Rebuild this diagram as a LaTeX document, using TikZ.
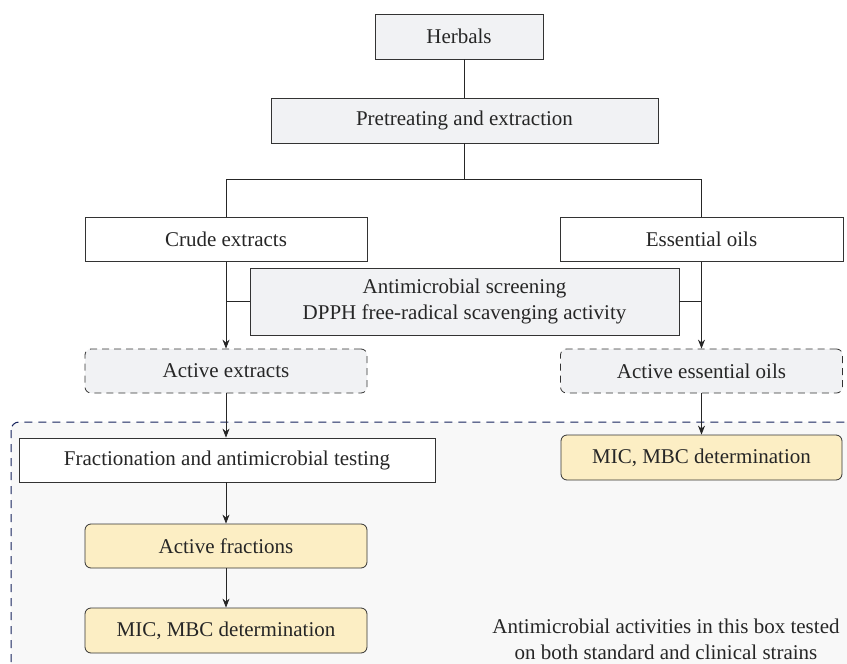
\documentclass[tikz,border=0pt]{standalone}
\usepackage{fontspec}
\setmainfont{Liberation Serif}
\usetikzlibrary{arrows.meta}
\definecolor{boxgray}{HTML}{F1F2F4}
\definecolor{boxyellow}{HTML}{FCEEC4}
\definecolor{areagray}{HTML}{F8F8F8}
\definecolor{areanavy}{HTML}{15225C}

\begin{document}
\begin{tikzpicture}[x=1pt,y=-1pt,
    every node/.style={font=\fontsize{21}{26}\selectfont, text=black!85},
    box/.style={draw=black!80, line width=0.8pt, minimum height=44pt, inner sep=0pt},
    graybox/.style={box, fill=boxgray},
    whitebox/.style={box, fill=white},
    activebox/.style={box, fill=boxgray, dash pattern=on 7pt off 5pt, rounded corners=6pt},
    resultbox/.style={box, fill=boxyellow, rounded corners=6pt},
    link/.style={draw=black!85, line width=0.8pt},
    arr/.style={link, -{Stealth[length=9pt,width=7pt]}}]
    \useasboundingbox (0,0) rectangle (847,664);
    % testing area
    \draw[areanavy, dash pattern=on 8pt off 6pt, line width=1pt, fill=areagray, rounded corners=8pt]
        (11,422) rectangle (880,700);
    \node[graybox, minimum width=168pt, minimum height=45pt] (herb) at (459,36.5) {Herbals};
    \node[graybox, minimum width=387pt, minimum height=45pt] (pre) at (464.5,120.5) {Pretreating and extraction};
    \node[whitebox, minimum width=282pt] (crude) at (226,239.5) {Crude extracts};
    \node[whitebox, minimum width=283pt] (oil) at (701.5,239.5) {Essential oils};
    \node[graybox, minimum width=429pt, minimum height=67pt, align=center] (screen) at (464.5,301.5)
        {Antimicrobial screening\\DPPH free-radical scavenging activity};
    \node[activebox, minimum width=282pt] (actext) at (226,371) {Active extracts};
    \node[activebox, minimum width=282pt] (actoil) at (701.5,371) {Active essential oils};
    \node[whitebox, minimum width=416pt] (frac) at (227,460) {Fractionation and antimicrobial testing};
    \node[resultbox, minimum width=281pt, minimum height=45pt] (micr) at (701.5,457.5) {MIC, MBC determination};
    \node[resultbox, minimum width=282pt] (actfrac) at (226,546) {Active fractions};
    \node[resultbox, minimum width=282pt, minimum height=45pt] (micl) at (226,630.5) {MIC, MBC determination};
    \node[align=center] (note) at (666,639.5)
        {Antimicrobial activities in this box tested\\on both standard and clinical strains};
    % branches
    \coordinate (split) at (464,179);
    \draw[link] (pre.south -| split) -- (split);
    \draw[link] (herb.south -| split) -- (pre.north -| split);
    \draw[link] (crude.north) -- (crude.north |- split) -- (oil.north |- split) -- (oil.north);
    \draw[arr] (crude.south) -- (actext.north);
    \draw[arr] (oil.south) -- (actoil.north);
    \draw[link, line width=1.6pt] (crude.south |- screen.west) -- (screen.west);
    \draw[link, line width=1.6pt] (screen.east) -- (oil.south |- screen.east);
    \draw[arr] (actext.south) -- (frac.north -| actext.south);
    \draw[arr] (actoil.south) -- (micr.north);
    \draw[arr] (frac.south -| actfrac.north) -- (actfrac.north);
    \draw[arr] (actfrac.south) -- (micl.north);
\end{tikzpicture}
\end{document}
